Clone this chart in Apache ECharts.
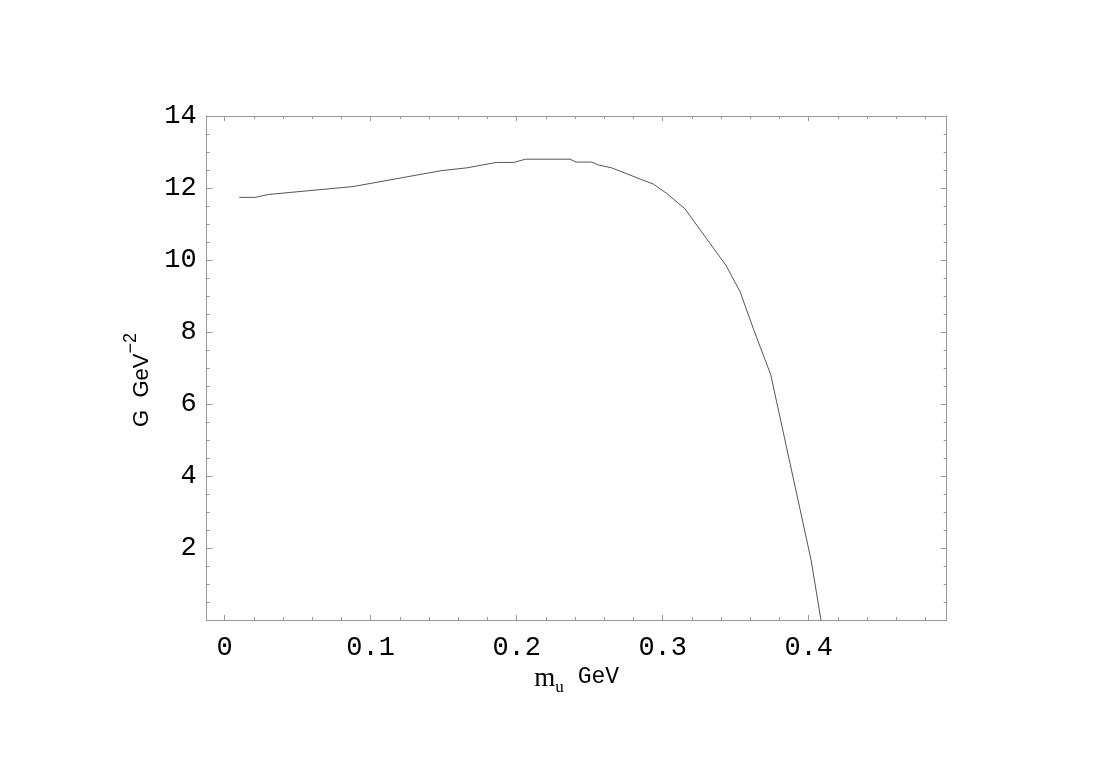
<!DOCTYPE html>
<html>
<head>
<meta charset="utf-8">
<script src="https://cdn.jsdelivr.net/npm/echarts@6/dist/echarts.min.js"></script>
<style>html,body{margin:0;padding:0;background:#fff}#c{width:1113px;height:770px}</style>
</head>
<body>
<div id="c"></div>
<script>
// data
var mu = [0.010, 0.021, 0.030, 0.088, 0.148, 0.166, 0.186, 0.198, 0.206, 0.2365, 0.2406, 0.2514, 0.2559, 0.265, 0.2845, 0.2936, 0.3027, 0.3153, 0.329, 0.3432, 0.353, 0.362, 0.374, 0.4016, 0.4084];
var G  = [11.74, 11.74, 11.82, 12.04, 12.48, 12.56, 12.71, 12.71, 12.80, 12.80, 12.72, 12.72, 12.64, 12.56, 12.25, 12.11, 11.85, 11.42, 10.65, 9.86, 9.12, 8.10, 6.81, 1.67, 0];
var xMajor = [0, 0.1, 0.2, 0.3, 0.4];
var xMinor = [0.02, 0.04, 0.06, 0.08, 0.12, 0.14, 0.16, 0.18, 0.22, 0.24, 0.26, 0.28, 0.32, 0.34, 0.36, 0.38, 0.42, 0.44, 0.46, 0.48];
var yMajor = [0, 2, 4, 6, 8, 10, 12, 14];
var yLabels = [2, 4, 6, 8, 10, 12, 14];
var yMinor = [0.5, 1, 1.5, 2.5, 3, 3.5, 4.5, 5, 5.5, 6.5, 7, 7.5, 8.5, 9, 9.5, 10.5, 11, 11.5, 12.5, 13, 13.5];
var xRange = [-0.0123, 0.4945];
var yRange = [0, 14];

var frame = '#999';
var mono = '"Liberation Mono", "DejaVu Sans Mono", monospace';

function xAx(pos, vals, len, labels) {
  return {
    type: 'value', position: pos, min: xRange[0], max: xRange[1],
    axisLine: { show: true, onZero: false, lineStyle: { color: frame, width: 1 } },
    axisTick: { show: true, inside: true, length: len, customValues: vals, lineStyle: { color: frame } },
    axisLabel: labels ? {
      show: true, customValues: labels, margin: 14, color: '#000', fontSize: 27, fontFamily: mono,
      formatter: function (v) { return v === 0 ? '0' : v.toFixed(1); }
    } : { show: false },
    splitLine: { show: false }
  };
}
function yAx(pos, vals, len, labels) {
  return {
    type: 'value', position: pos, min: yRange[0], max: yRange[1],
    axisLine: { show: true, onZero: false, lineStyle: { color: frame, width: 1 } },
    axisTick: { show: true, inside: true, length: len, customValues: vals, lineStyle: { color: frame } },
    axisLabel: labels ? {
      show: true, customValues: labels, margin: 10, color: '#000', fontSize: 27, fontFamily: mono,
      formatter: function (v) { return String(v); }
    } : { show: false },
    splitLine: { show: false }
  };
}

var xa0 = xAx('bottom', xMajor, 5, xMajor);
xa0.name = '{m|m}{u|u}{g| GeV}';
xa0.nameLocation = 'middle';
xa0.nameGap = 30;
xa0.nameTextStyle = {
  color: '#000',
  padding: [0, 0, 0, 0],
  rich: {
    m: { fontFamily: '"Liberation Serif", serif', fontSize: 27, color: '#000', verticalAlign: 'top', lineHeight: 30 },
    u: { fontFamily: '"Liberation Serif", serif', fontSize: 17, color: '#000', verticalAlign: 'bottom', lineHeight: 30 },
    g: { fontFamily: mono, fontSize: 23, color: '#000', verticalAlign: 'top', lineHeight: 30 }
  }
};

var ya0 = yAx('left', yMajor, 6, yLabels);
ya0.name = '{a|G  GeV}{s|\u22122}';
ya0.nameLocation = 'middle';
ya0.nameGap = 54;
ya0.nameRotate = 90;
ya0.nameTextStyle = {
  color: '#000',
  padding: [0, 24, 0, 0],
  rich: {
    a: { fontFamily: '"Liberation Sans", sans-serif', fontSize: 22, color: '#000', verticalAlign: 'bottom', lineHeight: 31 },
    s: { fontFamily: '"Liberation Sans", sans-serif', fontSize: 18, color: '#000', verticalAlign: 'top', lineHeight: 31 }
  }
};

var option = {
  backgroundColor: '#fff',
  animation: false,
  grid: { left: 206.7, right: 166.3, top: 116, bottom: 150, containLabel: false },
  xAxis: [xa0, xAx('bottom', xMinor, 3, null), xAx('top', xMajor, 5, null), xAx('top', xMinor, 3, null)],
  yAxis: [ya0, yAx('left', yMinor, 3, null), yAx('right', yMajor, 6, null), yAx('right', yMinor, 3, null)],
  series: [{
    type: 'line', xAxisIndex: 0, yAxisIndex: 0,
    data: mu.map(function (v, i) { return [v, G[i]]; }),
    showSymbol: false, symbol: 'none', smooth: false, clip: true,
    lineStyle: { color: '#555', width: 1 }
  }]
};
echarts.init(document.getElementById('c'), null, { renderer: 'canvas' }).setOption(option);
</script>
</body>
</html>
